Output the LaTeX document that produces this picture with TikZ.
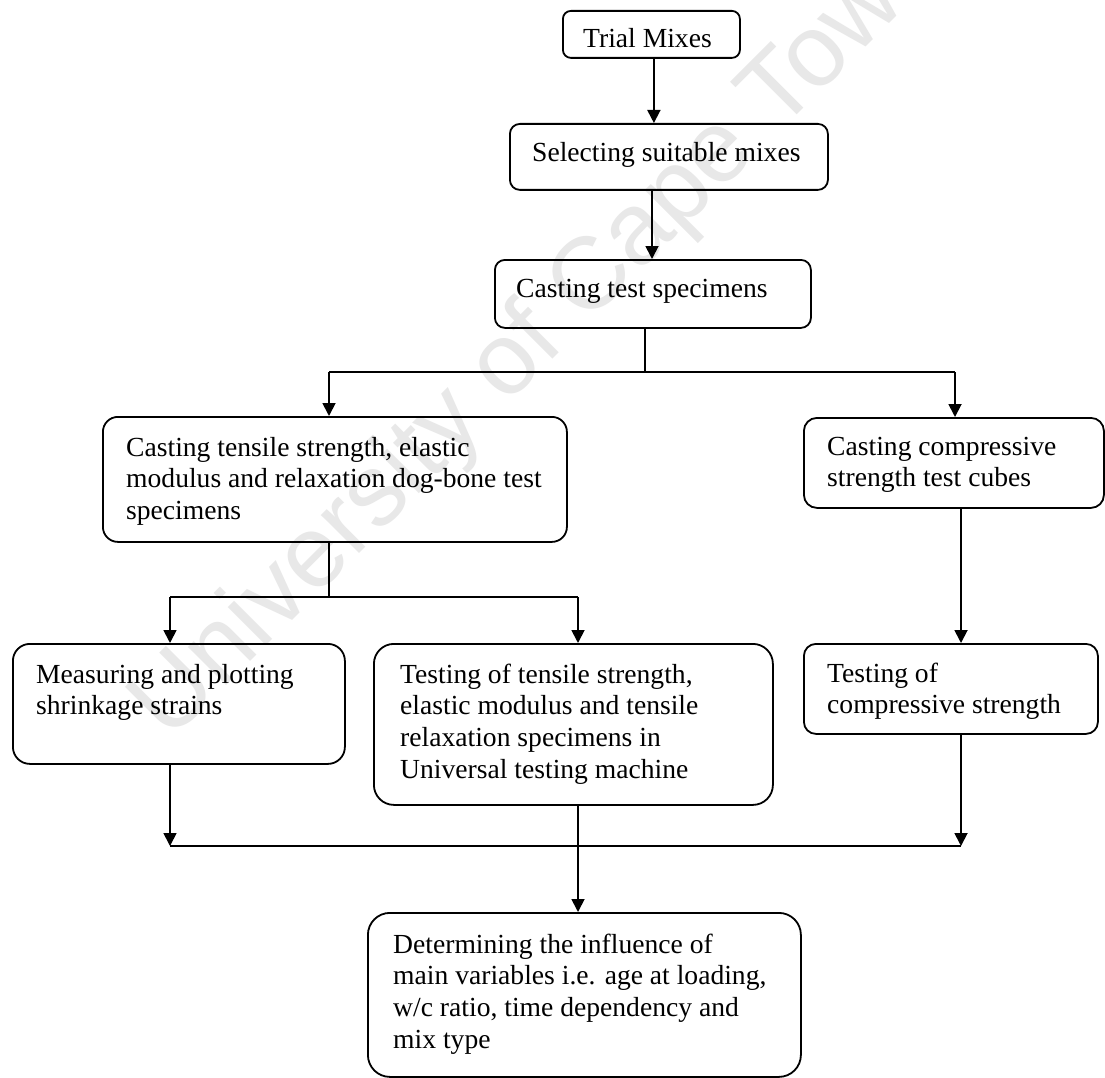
\documentclass[tikz,border=0pt]{standalone}
\usepackage{fontspec}
\setmainfont{Liberation Serif}
\newfontfamily\wmfont{Liberation Sans}
\usetikzlibrary{arrows.meta,calc}
\tikzset{
  box/.style={draw, line width=1.8pt, rounded corners=#1, anchor=north west, inner sep=0pt},
  box/.default=14pt,
  txt/.style={anchor=north west, inner sep=0pt, align=left, font=\fontsize{27.6}{31.6}\selectfont},
  conn/.style={line width=1.8pt},
  arr/.style={line width=1.8pt, -{Triangle[length=13pt,width=13pt]}},
  wm/.style={font=\wmfont\fontsize{102}{110}\selectfont, text=black!9, rotate=45, inner sep=0pt}
}
\begin{document}
\begin{tikzpicture}[x=1pt,y=-1pt]
\useasboundingbox (0,0) rectangle (1105,1078);
\fill[white] (0,0) rectangle (1105,1078);
% watermark
\node[wm] (wm) at (540,335) {University of Cape Town};
% boxes
\node[box=8pt, minimum width=177pt, minimum height=47pt] (trial) at (562,10) {};
\node[box=10pt, minimum width=318pt, minimum height=66pt] (select) at (509,123) {};
\node[box=10pt, minimum width=316pt, minimum height=68pt] (cast) at (494,259) {};
\node[box=15pt, minimum width=464pt, minimum height=125pt] (ltop) at (102,416) {};
\node[box=13pt, minimum width=300pt, minimum height=90pt] (rtop) at (803,417) {};
\node[box=17pt, minimum width=332pt, minimum height=120pt] (shrink) at (12,643) {};
\node[box=20pt, minimum width=399pt, minimum height=161pt] (mid) at (373,643) {};
\node[box=12pt, minimum width=294pt, minimum height=90pt] (rbot) at (803,643) {};
\node[box=22pt, minimum width=433pt, minimum height=164pt] (final) at (367,912) {};
% texts
\node[txt] (trialt) at (583,25) {\strut Trial Mixes};
\node[txt] (selectt) at (532,139) {\strut Selecting suitable mixes};
\node[txt] (castt) at (516,275) {\strut Casting test specimens};
\node[txt] (ltopt) at (126,434) {\strut Casting tensile strength, elastic\\modulus and relaxation dog-bone test\\specimens};
\node[txt] (rtopt) at (827,433) {\strut Casting compressive\\strength test cubes};
\node[txt] (shrinkt) at (36,661) {\strut Measuring and plotting\\shrinkage strains};
\node[txt] (midt) at (400,661) {\strut Testing of tensile strength,\\elastic modulus and tensile\\relaxation specimens in\\Universal testing machine};
\node[txt] (rbott) at (827,660) {\strut Testing of\\compressive strength};
\node[txt] (finalt) at (393,931) {\strut Determining the influence of\\main variables i.e. age at loading,\\w/c ratio, time dependency and\\mix type};
% junction coordinates
\coordinate (j1) at (645,372);
\coordinate (a1) at (329,372);
\coordinate (a2) at (955,372);
\coordinate (j2) at (329,597);
\coordinate (b1) at (170,597);
\coordinate (b2) at (578,597);
\coordinate (c1) at (170,846);
\coordinate (c2) at (578,846);
\coordinate (c3) at (961,846);
\coordinate (d3) at (961,0);
\coordinate (d1) at (652,0);
% connectors
\draw[arr] (trial.south) ++(2.5,0) coordinate (t0) -- (t0 |- select.north);
\draw[arr] (select.south -| d1) -- (cast.north -| d1);
\draw[conn] (cast.south -| j1) -- (j1);
\draw[conn] (a1) -- (a2);
\draw[arr] (a1) -- (a1 |- ltop.north);
\draw[arr] (a2) -- (a2 |- rtop.north);
\draw[conn] (ltop.south -| j2) -- (j2);
\draw[conn] (b1) -- (b2);
\draw[arr] (b1) -- (b1 |- shrink.north);
\draw[arr] (b2) -- (b2 |- mid.north);
\draw[arr] (rtop.south -| d3) -- (rbot.north -| d3);
\draw[arr] (shrink.south -| c1) -- (c1);
\draw[arr] (rbot.south -| c3) -- (c3);
\draw[conn] (c1) -- (c3);
\draw[conn] (mid.south -| c2) -- (c2);
\draw[arr] (c2) -- (c2 |- final.north);
\end{tikzpicture}
\end{document}
